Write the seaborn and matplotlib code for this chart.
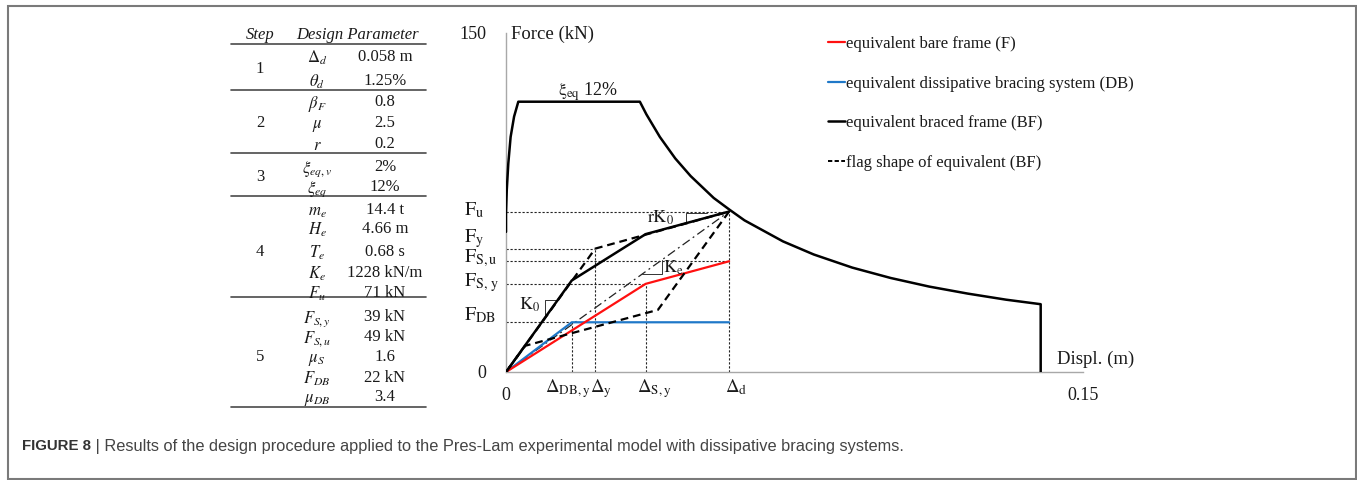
import matplotlib
matplotlib.use("Agg")
import matplotlib.pyplot as plt
import seaborn as sns
from matplotlib.lines import Line2D
from matplotlib.patches import Rectangle

# ---------------- data ----------------
table_steps = ["1", "2", "3", "4", "5"]
table_step_sizes = [2, 3, 2, 5, 5]
table_symbols = [r"$\Delta_{d}$", r"$\theta_{d}$", r"$\beta_{F}$", r"$\mu$", r"$r$",
                 r"$\xi_{eq,v}$", r"$\xi_{eq}$", r"$m_{e}$", r"$H_{e}$", r"$T_{e}$",
                 r"$K_{e}$", r"$F_{u}$", r"$F_{S,y}$", r"$F_{S,u}$", r"$\mu_{S}$",
                 r"$F_{DB}$", r"$\mu_{DB}$"]
table_values = ["0.058 m", "1.25%", "0.8", "2.5", "0.2", "2%", "12%", "14.4 t",
                "4.66 m", "0.68 s", "1228 kN/m", "71 kN", "39 kN", "49 kN", "1.6",
                "22 kN", "3.4"]

# key design quantities (m, kN)
delta_d, delta_y, delta_sy, delta_dby = 0.058, 0.0232, 0.0363, 0.0171
F_u, F_y, F_su, F_sy, F_db = 71.0, 54.6, 49.0, 39.0, 22.0

# demand spectrum for xi_eq = 12%
spectrum_disp = [0.0, 0.0, 0.0002, 0.0006, 0.0012, 0.0021, 0.0032, 0.0348, 0.0365,
                 0.0400, 0.0440, 0.0480, 0.0540, 0.0582, 0.0620, 0.0720, 0.0800,
                 0.0900, 0.1000, 0.1100, 0.1200, 0.1300, 0.1390, 0.1390]
spectrum_force = [62.0, 70.0, 80.5, 92.3, 104.0, 113.0, 119.6, 119.6, 114.0,
                  104.0, 94.5, 86.7, 77.0, 71.7, 67.1, 57.8, 52.0, 46.2, 41.6,
                  37.8, 34.7, 32.0, 30.0, 0.0]

frame_disp = [0.0, 0.0363, 0.058]
frame_force = [0.0, 39.0, 49.0]
brace_disp = [0.0, 0.0171, 0.058]
brace_force = [0.0, 22.0, 22.0]
braced_disp = [0.0, 0.0171, 0.0363, 0.058]
braced_force = [0.0, 40.5, 61.0, 71.0]
flag_disp = [0.0, 0.0232, 0.058, 0.0395, 0.0050, 0.0]
flag_force = [0.0, 54.6, 71.0, 27.5, 11.6, 0.0]
secant_disp = [0.0, 0.058]
secant_force = [0.0, 71.0]

# slope markers (L shapes)
k0_tri_disp = [0.0101, 0.0101, 0.0133]
k0_tri_force = [24.0, 32.0, 32.0]
rk0_tri_disp = [0.0468, 0.0468, 0.0522]
rk0_tri_force = [66.0, 70.3, 70.3]
ke_tri_disp = [0.0353, 0.0405, 0.0405]
ke_tri_force = [43.4, 43.4, 49.6]

legend_labels = ["equivalent bare frame (F)",
                 "equivalent dissipative bracing system (DB)",
                 "equivalent braced frame (BF)",
                 "flag shape of equivalent (BF)"]

# ---------------- style ----------------
sns.set_style("white")
plt.rcParams["font.family"] = ["Liberation Serif", "DejaVu Serif"]
plt.rcParams["mathtext.fontset"] = "stix"

W, H = 1357, 480
fig = plt.figure(figsize=(W / 100, H / 100), dpi=100)
fig.patch.set_facecolor("white")


def fx(px):
    return px / W


def fy(py):
    return 1 - py / H


TXT = "#1a1a1a"
RED = "#ff1010"
BLUE = "#1f78c8"

ax = fig.add_axes([fx(506), fy(372), fx(1083) - fx(506), fy(33) - fy(372)])
ax.set_xlim(0, 0.15)
ax.set_ylim(0, 150)

# dotted reference lines
dot = dict(color="#222222", lw=0.8, linestyle=(0, (2, 1.6)), zorder=1)
ax.hlines([F_u, F_y, F_su, F_sy, F_db], 0,
          [delta_d, delta_y, delta_d, delta_sy, delta_dby], **dot)
ax.vlines([delta_dby, delta_y, delta_sy, delta_d], 0,
          [F_db, F_y, F_sy, F_u], **dot)

sns.lineplot(x=secant_disp, y=secant_force, sort=False, estimator=None, ax=ax,
             color="#222222", lw=0.9, linestyle=(0, (7, 3, 1.5, 3)), zorder=2)
sns.lineplot(x=brace_disp, y=brace_force, sort=False, estimator=None, ax=ax,
             color=BLUE, lw=1.6, zorder=3)
sns.lineplot(x=frame_disp, y=frame_force, sort=False, estimator=None, ax=ax,
             color=RED, lw=1.6, zorder=4)
sns.lineplot(x=braced_disp, y=braced_force, sort=False, estimator=None, ax=ax,
             color="black", lw=1.8, zorder=5)
sns.lineplot(x=flag_disp, y=flag_force, sort=False, estimator=None, ax=ax,
             color="black", lw=1.6, linestyle=(0, (3.5, 2.2)), zorder=5)
sns.lineplot(x=spectrum_disp, y=spectrum_force, sort=False, estimator=None, ax=ax,
             color="black", lw=1.8, zorder=6)

for xs, ys in [(k0_tri_disp, k0_tri_force), (rk0_tri_disp, rk0_tri_force),
               (ke_tri_disp, ke_tri_force)]:
    sns.lineplot(x=xs, y=ys, sort=False, estimator=None, ax=ax,
                 color="#333333", lw=0.7, zorder=4)

# axes styling
for s in ["top", "right"]:
    ax.spines[s].set_visible(False)
for s in ["left", "bottom"]:
    ax.spines[s].set_color("#a8a8a8")
    ax.spines[s].set_linewidth(1.0)
ax.set_yticks([0, 37.5, 75, 112.5, 150])
ax.set_yticklabels(["0", "", "", "", "150"])
ax.set_xticks([0, 0.05, 0.10, 0.15])
ax.set_xticklabels(["0", "", "", "0.15"])
ax.tick_params(axis="both", direction="out", length=4, width=1.0, color="#a8a8a8",
               labelsize=13, labelcolor=TXT)
ax.tick_params(axis="y", pad=10)
ax.tick_params(axis="x", pad=7)
ax.set_xlabel("")
ax.set_ylabel("")

# axis titles and labels
fig.text(fx(511), fy(34), "Force (kN)", fontsize=13.5, color=TXT, va="center")
fig.text(fx(1057), fy(359), "Displ. (m)", fontsize=13.5, color=TXT, va="center")
fig.text(fx(558), fy(92), r"$\mathrm{\xi_{eq}}$ 12%", fontsize=13, color=TXT,
         va="center")

left_labels = [(r"$\mathrm{F_u}$", 215), (r"$\mathrm{F_y}$", 242),
               (r"$\mathrm{F_{S,u}}$", 262), (r"$\mathrm{F_{S,\,y}}$", 286),
               (r"$\mathrm{F_{DB}}$", 320)]
for lab, yb in left_labels:
    fig.text(fx(464), fy(yb), lab, fontsize=14.5, color=TXT, va="baseline",
             ha="left")

bottom_labels = [(r"$\mathrm{\Delta_{DB,y}}$", 545), (r"$\mathrm{\Delta_y}$", 590),
                 (r"$\mathrm{\Delta_{S,y}}$", 637), (r"$\mathrm{\Delta_d}$", 725)]
for lab, xl in bottom_labels:
    fig.text(fx(xl), fy(392), lab, fontsize=13.5, color=TXT, va="baseline",
             ha="left")

fig.text(fx(540), fy(310), r"$\mathrm{K_0}$", fontsize=13, color=TXT,
         ha="right", va="baseline")
fig.text(fx(674), fy(223), r"$\mathrm{rK_0}$", fontsize=13, color=TXT,
         ha="right", va="baseline")
fig.text(fx(663), fy(273), r"$\mathrm{K_e}$", fontsize=13, color=TXT,
         ha="left", va="baseline")

# legend
handles = [Line2D([], [], color=RED, lw=1.6),
           Line2D([], [], color=BLUE, lw=1.6),
           Line2D([], [], color="black", lw=1.8),
           Line2D([], [], color="black", lw=1.4, linestyle=(0, (2.2, 1.2)))]
leg = ax.legend(handles, legend_labels, loc="upper left",
                bbox_to_anchor=(fx(828), fy(36)), bbox_transform=fig.transFigure,
                frameon=False, fontsize=12, handlelength=1.0, handletextpad=0.05,
                labelspacing=1.42, borderpad=0, borderaxespad=0)
for t in leg.get_texts():
    t.set_color(TXT)

# ---------------- table ----------------
tab_font = 12
fig.text(fx(260), fy(35), "Step", fontsize=tab_font, style="italic", color=TXT,
         ha="center", va="center")
fig.text(fx(357), fy(35), "Design Parameter", fontsize=tab_font, style="italic",
         color=TXT, ha="center", va="center")
row_y = [57, 81, 102, 123, 144, 167, 187, 210, 229, 252, 273, 293, 317, 337, 357,
         378, 397]
for sym, val, yr in zip(table_symbols, table_values, row_y):
    fig.text(fx(317), fy(yr + 5.5), sym, fontsize=tab_font, color=TXT,
             ha="center", va="baseline")
    fig.text(fx(385), fy(yr), val, fontsize=tab_font, color=TXT, ha="center",
             va="center")
start = 0
for step, n in zip(table_steps, table_step_sizes):
    ys = row_y[start:start + n]
    fig.text(fx(260), fy((ys[0] + ys[-1]) / 2), step, fontsize=tab_font,
             color=TXT, ha="center", va="center")
    start += n
for yl in [44, 90, 153, 196, 297, 407]:
    fig.add_artist(Line2D([fx(231), fx(426)], [fy(yl), fy(yl)], color="#4a4a4a",
                          lw=1.2))

# ---------------- caption & frame ----------------
cap1 = fig.text(fx(22), fy(446), "FIGURE 8", fontsize=10.8, weight="bold",
                family="Liberation Sans", color="#333333", va="center")
ax.annotate(" | Results of the design procedure applied to the Pres-Lam "
            "experimental model with dissipative bracing systems.",
            xy=(1, 0.5), xycoords=cap1, va="center", ha="left",
            fontsize=11.8, family="Liberation Sans", color="#444444",
            annotation_clip=False)

fig.add_artist(Rectangle((fx(7.5), fy(479)), fx(1355.5) - fx(7.5),
                         fy(6) - fy(479), transform=fig.transFigure, fill=False,
                         ec="#7a7a7a", lw=1.5))

fig.savefig("out.png", dpi=100)
